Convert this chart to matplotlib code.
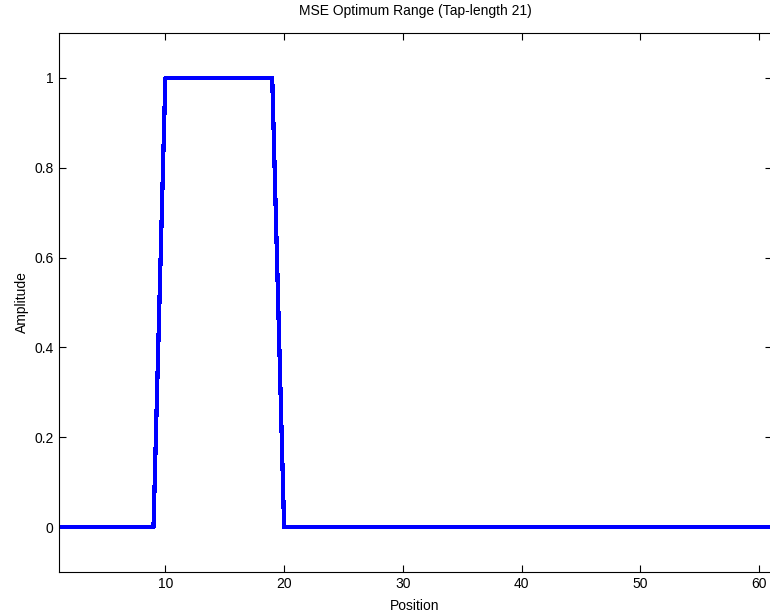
import matplotlib

matplotlib.use("Agg")
import matplotlib.pyplot as plt
import numpy as np

# filter taps, positions 1..61
position = list(range(1, 62))
amplitude = [0] * 9 + [1] * 10 + [0] * 42

x_ticks = [10, 20, 30, 40, 50, 60]
y_ticks = [0, 0.2, 0.4, 0.6, 0.8, 1]

plt.rcParams["font.family"] = ["Liberation Sans", "DejaVu Sans"]
plt.rcParams["font.size"] = 10

fig = plt.figure(figsize=(7.7, 6.16), dpi=100)
ax = fig.add_axes([58.5 / 770, 1 - 572 / 616, 713 / 770, 539 / 616])
ax.plot(position, amplitude, color="#0000ff", lw=2.3, antialiased=False)
ax.set_xlim(1, 61.05)
ax.set_ylim(-0.1, 1.1)
ax.set_xticks(x_ticks)
ax.set_yticks(y_ticks)
ax.set_yticklabels(["0", "0.2", "0.4", "0.6", "0.8", "1"])
ax.tick_params(direction="in", length=5, width=0.8, top=True, right=True)
ax.set_xlabel("Position", labelpad=6)
ax.set_ylabel("Amplitude", labelpad=4)
ax.set_title("MSE Optimum Range (Tap-length 21)", fontsize=10, pad=13)

fig.savefig("out.png", dpi=100)
plt.close(fig)
